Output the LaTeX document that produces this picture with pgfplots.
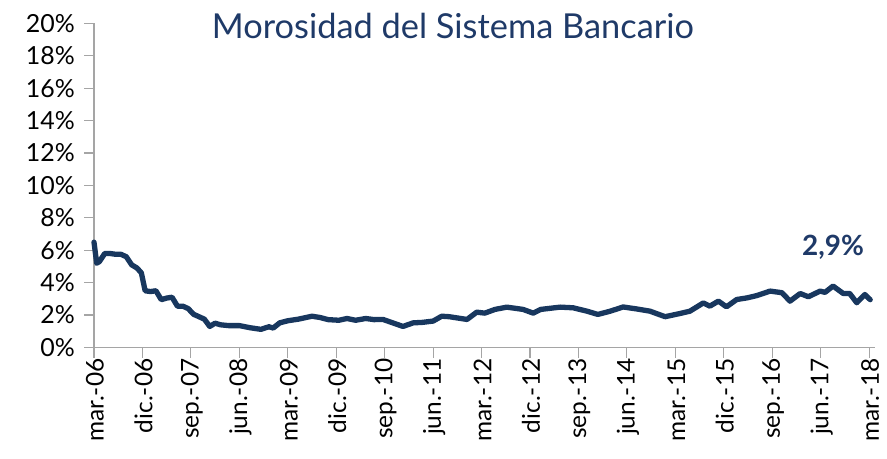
\documentclass[border=0pt]{standalone}
\usepackage{pgfplots}
\pgfplotsset{compat=1.18}
\usepackage{fontspec}
\setmainfont{Lato}
\definecolor{navy}{RGB}{24,55,94}
\definecolor{titlenavy}{RGB}{31,58,104}
\definecolor{axgray}{RGB}{165,165,165}
\begin{document}
\begin{tikzpicture}
\path[use as bounding box] (-94bp,-111.5bp) rectangle (793bp,347.5bp);
\begin{axis}[
  scale only axis,
  width=780.5bp, height=324.2bp,
  xmin=0, xmax=145, ymin=0, ymax=20,
  axis lines=left,
  axis line style={axgray, line width=1.2pt, -},
  every tick/.style={axgray, line width=1.2pt},
  tick align=outside,
  major tick length=10bp,
  xtick={0,9,...,144},
  xticklabels={mar.-06,dic.-06,sep.-07,jun.-08,mar.-09,dic.-09,sep.-10,jun.-11,mar.-12,dic.-12,sep.-13,jun.-14,mar.-15,dic.-15,sep.-16,jun.-17,mar.-18},
  ytick={0,2,...,20},
  yticklabels={0\%,2\%,4\%,6\%,8\%,10\%,12\%,14\%,16\%,18\%,20\%},
  /pgf/number format/assume math mode=true,
  xticklabel style={rotate=90, anchor=east, font=\fontsize{24.5}{24.5}\selectfont, inner sep=1pt, yshift=-1bp},
  yticklabel style={font=\fontsize{25}{25}\selectfont, inner sep=1pt, xshift=-8bp},
  clip=false,
]
\addplot[navy, line width=5.3bp, line join=round, line cap=round] coordinates {
(0,6.5) (0.5,5.2) (1,5.3) (2,5.8) (3,5.8) (4,5.75) (5,5.75) (6,5.6) (7,5.1) (8,4.9) (8.8,4.6)
(9.5,3.5) (10.5,3.45) (11.5,3.5) (12.5,2.95) (13.5,3.05) (14.5,3.1) (15.5,2.55) (16.5,2.55)
(17.5,2.4) (18.5,2.05) (19.5,1.9) (20.5,1.75) (21.5,1.3) (22.5,1.5) (23.5,1.4) (25,1.35)
(27,1.35) (29,1.22) (31,1.12) (32.5,1.28) (33.3,1.2) (34.5,1.52) (36,1.65) (38,1.75)
(40.5,1.93) (42,1.85) (43.5,1.72) (45.5,1.68) (47,1.79) (48.6,1.68) (50.5,1.79) (52,1.72)
(53.7,1.73) (55.5,1.52) (57.4,1.3) (59.3,1.52) (61,1.55) (63,1.63) (64.6,1.93) (66,1.9)
(69.3,1.73) (71.1,2.18) (72.6,2.12) (74.5,2.35) (76.7,2.49) (79.7,2.35) (81.6,2.12) (83,2.35)
(86.6,2.49) (89,2.45) (91.6,2.24) (93.6,2.04) (95.9,2.24) (98.3,2.5) (100.8,2.38) (103.3,2.24)
(106.1,1.9) (108.9,2.1) (110.7,2.24) (113.2,2.75) (114.4,2.55) (116,2.86) (117.5,2.51)
(119.4,2.96) (121.3,3.06) (123.1,3.2) (125.6,3.48) (127.8,3.38) (129.3,2.86) (131.2,3.33)
(132.7,3.13) (134.9,3.48) (135.8,3.4) (137.3,3.79) (139.2,3.33) (140.4,3.33) (141.7,2.76)
(143.2,3.27) (144.2,2.95)
};
\node[text=titlenavy, font=\bfseries\fontsize{28}{28}\selectfont] at (axis cs:137.3,6.2) {2,9\%};
\end{axis}
\node[text=titlenavy, font=\fontsize{34.5}{34.5}\selectfont] at (359bp,322bp) {Morosidad del Sistema Bancario};
\end{tikzpicture}
\end{document}
